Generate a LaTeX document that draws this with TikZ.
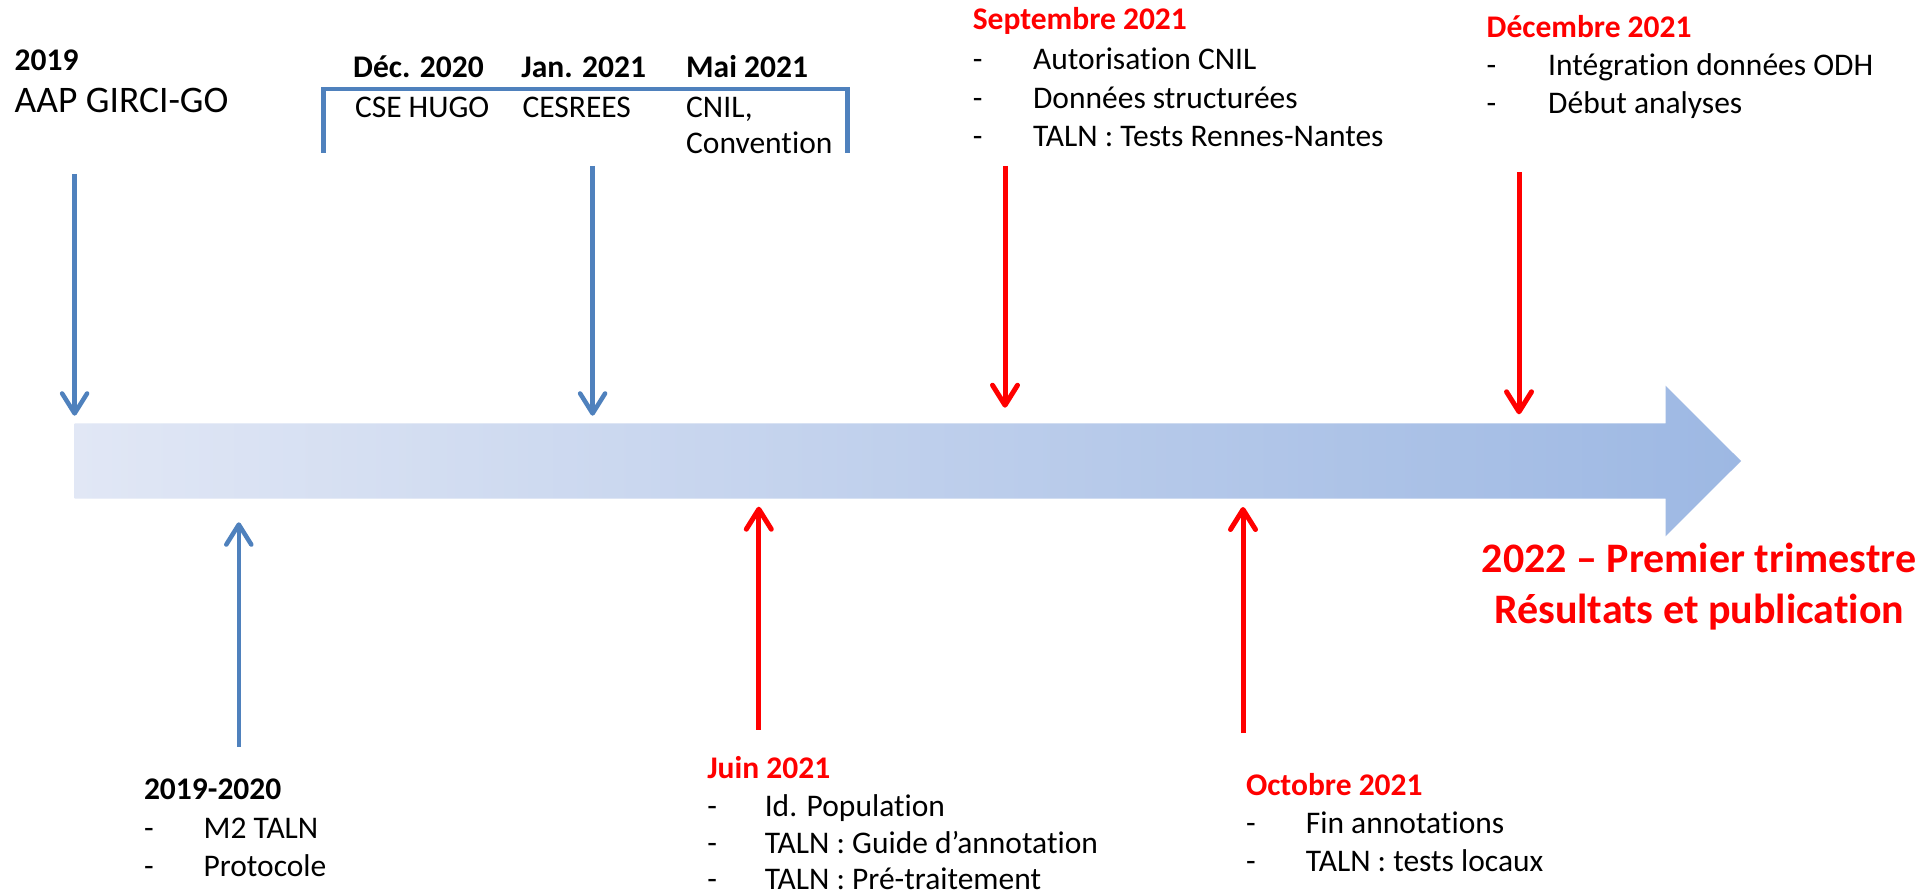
\documentclass[tikz,border=0pt]{standalone}
\usepackage{fontspec}
\setmainfont{Carlito}[Ligatures={NoCommon}]
\usetikzlibrary{arrows.meta}
\definecolor{tlL}{RGB}{225,231,245}
\definecolor{tlR}{RGB}{157,184,227}
\definecolor{obl}{RGB}{79,129,189}
\definecolor{ored}{RGB}{255,0,0}
\newcommand\dashitem[5]{\node[txt] (#1-d) at (#2,#4) {-}; \node[txt] (#1) at (#3,#4) {#5};}
\begin{document}
\begin{tikzpicture}[x=1pt,y=-1pt,
  txt/.style={anchor=base west, inner sep=0pt, font=\fontsize{31.5}{38}\selectfont},
  hd/.style={anchor=base west, inner sep=0pt, font=\bfseries\fontsize{31.5}{38}\selectfont},
  redhd/.style={hd, text=ored},
  big/.style={anchor=base, inner sep=0pt, text=ored, font=\bfseries\fontsize{42}{50}\selectfont},
  bluearrow/.style={draw=obl, line width=4.5pt, -{Straight Barb[length=20pt,width=25pt,round]}},
  redarrow/.style={draw=ored, line width=5pt, -{Straight Barb[length=20pt,width=25pt,round]}}]
\fill[white] (0,0) rectangle (1916,896);
\useasboundingbox (0,0) rectangle (1916,896);
% timeline
\shade[left color=tlL, right color=tlR] (74.5,423.3) -- (1665.5,423.3) -- (1665.5,385.7) -- (1741,461) -- (1665.5,536.3) -- (1665.5,498.7) -- (74.5,498.7) -- cycle;
% bracket
\draw[obl, line width=4.5pt] (323.6,152.7) -- (323.6,89) -- (847.6,89) -- (847.6,152.7);
% top-left
\node[hd] (y2019) at (14.4,71) {2019};
\node[txt, font=\fontsize{37.5}{45}\selectfont] (aap) at (14.4,112.7) {AAP GIRCI-GO};
% bracket texts
\node[hd] (dec20) at (353,77.7) {Déc. 2020};
\node[hd] (jan21) at (521.2,77.7) {Jan. 2021};
\node[hd] (mai21) at (686,77.7) {Mai 2021};
\node[txt] (cse) at (354.8,117.3) {CSE HUGO};
\node[txt] (cesrees) at (522.4,117.3) {CESREES};
\node[txt] (cnil) at (686,117.3) {CNIL,};
\node[txt] (conv) at (686,154) {Convention};
% Septembre
\node[redhd] (sep) at (972.6,30) {Septembre 2021};
\dashitem{s1}{972.6}{1032.9}{70}{Autorisation CNIL}
\dashitem{s2}{972.6}{1032.9}{108.3}{Données structurées}
\dashitem{s3}{972.6}{1032.9}{146.7}{TALN : Tests Rennes-Nantes}
% Decembre
\node[redhd] (dec) at (1486.5,37.3) {Décembre 2021};
\dashitem{d1}{1486.5}{1548}{76}{Intégration données ODH}
\dashitem{d2}{1486.5}{1548}{113.3}{Début analyses}
% 2019-2020
\node[hd] (y1920) at (143.8,799.3) {2019-2020};
\dashitem{p1}{143.8}{203.4}{838.3}{M2 TALN}
\dashitem{p2}{143.8}{203.4}{876}{Protocole}
% Juin
\node[redhd] (juin) at (707.1,778.5) {Juin 2021};
\dashitem{j1}{707.1}{764.6}{816}{Id. Population}
\dashitem{j2}{707.1}{764.6}{853}{TALN : Guide d’annotation}
\dashitem{j3}{707.1}{764.6}{889.5}{TALN : Pré-traitement}
% Octobre
\node[redhd] (oct) at (1245.8,795) {Octobre 2021};
\dashitem{o1}{1245.8}{1305.7}{833.3}{Fin annotations}
\dashitem{o2}{1245.8}{1305.7}{871.7}{TALN : tests locaux}
% 2022
\node[big] (r1) at (1699,572.7) {2022 – Premier trimestre};
\node[big] (r2) at (1699,623.3) {Résultats et publication};
% arrows
\coordinate (a1s) at (74.6,174); \coordinate (a1e) at (74.6,415.7);
\coordinate (a2s) at (592.6,166); \coordinate (a2e) at (592.6,415.7);
\coordinate (a3s) at (1005,166); \coordinate (a3e) at (1005,407.7);
\coordinate (a4s) at (1519,172.5); \coordinate (a4e) at (1519,414.3);
\coordinate (a5s) at (238.8,746.7); \coordinate (a5e) at (238.8,522.3);
\coordinate (a6s) at (758.8,729.5); \coordinate (a6e) at (758.8,506.7);
\coordinate (a7s) at (1243,733); \coordinate (a7e) at (1243,507);
\draw[bluearrow] (a1s) -- (a1e);
\draw[bluearrow] (a2s) -- (a2e);
\draw[redarrow] (a3s) -- (a3e);
\draw[redarrow] (a4s) -- (a4e);
\draw[bluearrow] (a5s) -- (a5e);
\draw[redarrow] (a6s) -- (a6e);
\draw[redarrow] (a7s) -- (a7e);
\end{tikzpicture}
\end{document}
